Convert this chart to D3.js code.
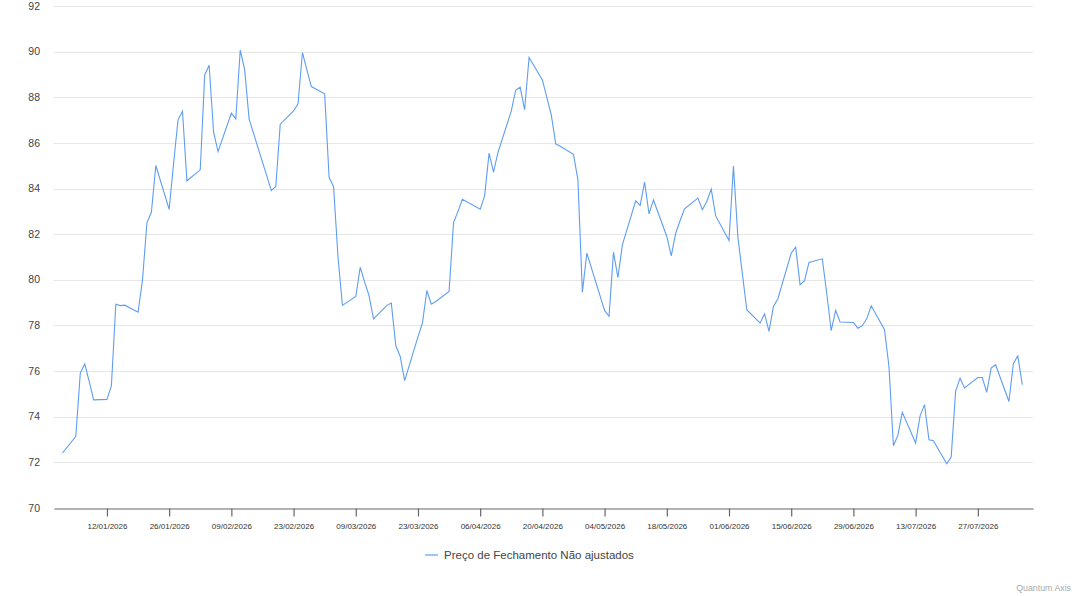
<!DOCTYPE html>
<html>
<head>
<meta charset="utf-8">
<script src="https://cdn.jsdelivr.net/npm/d3@7"></script>
<style>
  html, body { margin: 0; padding: 0; background: #fff; }
  svg { display: block; font-family: "Liberation Sans", Arial, sans-serif; }
</style>
</head>
<body>
<svg id="chart" width="1080" height="596"></svg>
<script>
// closing prices (unadjusted), one per trading day
const dates = [
  "02/01/2026","05/01/2026","06/01/2026","07/01/2026","08/01/2026","09/01/2026",
  "12/01/2026","13/01/2026","14/01/2026","15/01/2026","16/01/2026",
  "19/01/2026","20/01/2026","21/01/2026","22/01/2026","23/01/2026",
  "26/01/2026","27/01/2026","28/01/2026","29/01/2026","30/01/2026",
  "02/02/2026","03/02/2026","04/02/2026","05/02/2026","06/02/2026",
  "09/02/2026","10/02/2026","11/02/2026","12/02/2026","13/02/2026",
  "18/02/2026","19/02/2026","20/02/2026",
  "23/02/2026","24/02/2026","25/02/2026","26/02/2026","27/02/2026",
  "02/03/2026","03/03/2026","04/03/2026","05/03/2026","06/03/2026",
  "09/03/2026","10/03/2026","11/03/2026","12/03/2026","13/03/2026",
  "16/03/2026","17/03/2026","18/03/2026","19/03/2026","20/03/2026",
  "23/03/2026","24/03/2026","25/03/2026","26/03/2026","27/03/2026",
  "30/03/2026","31/03/2026","01/04/2026","02/04/2026",
  "06/04/2026","07/04/2026","08/04/2026","09/04/2026","10/04/2026",
  "13/04/2026","14/04/2026","15/04/2026","16/04/2026","17/04/2026",
  "20/04/2026","22/04/2026","23/04/2026","24/04/2026",
  "27/04/2026","28/04/2026","29/04/2026","30/04/2026",
  "04/05/2026","05/05/2026","06/05/2026","07/05/2026","08/05/2026",
  "11/05/2026","12/05/2026","13/05/2026","14/05/2026","15/05/2026",
  "18/05/2026","19/05/2026","20/05/2026","21/05/2026","22/05/2026",
  "25/05/2026","26/05/2026","27/05/2026","28/05/2026","29/05/2026",
  "01/06/2026","02/06/2026","03/06/2026","05/06/2026",
  "08/06/2026","09/06/2026","10/06/2026","11/06/2026","12/06/2026",
  "15/06/2026","16/06/2026","17/06/2026","18/06/2026","19/06/2026",
  "22/06/2026","23/06/2026","24/06/2026","25/06/2026","26/06/2026",
  "29/06/2026","30/06/2026","01/07/2026","02/07/2026","03/07/2026",
  "06/07/2026","07/07/2026","08/07/2026","09/07/2026","10/07/2026",
  "13/07/2026","14/07/2026","15/07/2026","16/07/2026","17/07/2026",
  "20/07/2026","21/07/2026","22/07/2026","23/07/2026","24/07/2026",
  "27/07/2026","28/07/2026","29/07/2026","30/07/2026","31/07/2026",
  "03/08/2026","04/08/2026","05/08/2026","06/08/2026"
];
const closes = [
  72.41,73.14,75.91,76.32,75.55,74.74,
  74.76,75.36,78.93,78.87,78.89,
  78.58,80.00,82.51,82.96,85.01,
  83.09,85.11,87.01,87.39,84.34,
  84.82,88.98,89.40,86.47,85.62,
  87.30,87.05,90.07,89.20,87.04,
  83.91,84.09,86.82,
  87.40,87.71,89.96,89.20,88.47,
  88.15,84.48,84.09,81.00,78.88,
  79.27,80.55,79.90,79.30,78.29,
  78.88,78.98,77.12,76.64,75.58,
  77.50,78.10,79.53,78.93,79.05,
  79.49,82.51,83.00,83.53,
  83.09,83.68,85.55,84.72,85.58,
  87.40,88.32,88.44,87.45,89.74,
  88.76,87.23,85.96,85.85,
  85.50,84.38,79.46,81.17,
  78.66,78.40,81.21,80.10,81.53,
  83.46,83.26,84.28,82.89,83.50,
  81.90,81.05,82.04,82.60,83.11,
  83.58,83.07,83.43,83.97,82.80,
  81.72,84.99,81.87,78.69,
  78.10,78.51,77.74,78.83,79.17,
  81.17,81.43,79.78,79.96,80.76,
  80.92,79.40,77.77,78.66,78.15,
  78.13,77.88,77.99,78.29,78.86,
  77.81,76.20,72.73,73.18,74.19,
  72.85,74.04,74.53,72.99,72.95,
  71.94,72.23,75.11,75.69,75.26,
  75.72,75.72,75.07,76.13,76.28,
  74.67,76.32,76.67,75.40
];
const xTickLabels = [
  "12/01/2026","26/01/2026","09/02/2026","23/02/2026","09/03/2026",
  "23/03/2026","06/04/2026","20/04/2026","04/05/2026","18/05/2026",
  "01/06/2026","15/06/2026","29/06/2026","13/07/2026","27/07/2026"
];
const yTicks = [70, 72, 74, 76, 78, 80, 82, 84, 86, 88, 90, 92];
const seriesName = "Preço de Fechamento Não ajustados";

const parse = d3.utcParse("%d/%m/%Y");
const fmt = d3.utcFormat("%d/%m/%Y");
const data = dates.map((d, i) => ({ date: parse(d), value: closes[i] }));

const plotLeft = 54, plotRight = 1033, plotTop = 6, plotBottom = 508;
const lineColor = "#5e9df2";

const svg = d3.select("#chart");

// small padding round the data on the time axis
const x = d3.scaleUtc()
  .domain([d3.utcHour.offset(data[0].date, -46), d3.utcHour.offset(data[data.length - 1].date, 58)])
  .range([plotLeft, plotRight]);
const y = d3.scaleLinear()
  .domain([70, 92])
  .range([plotBottom, plotTop]);

// grid
svg.append("g")
  .selectAll("line")
  .data(yTicks.filter(v => v !== 70))
  .join("line")
  .attr("x1", plotLeft).attr("x2", plotRight)
  .attr("y1", d => Math.round(y(d)) + 0.5).attr("y2", d => Math.round(y(d)) + 0.5)
  .attr("stroke", "#e6e6e6");

// y labels
svg.append("g")
  .selectAll("text")
  .data(yTicks)
  .join("text")
  .attr("x", 40)
  .attr("y", d => y(d))
  .attr("dy", "0.35em")
  .attr("text-anchor", "end")
  .attr("font-size", 10.5)
  .attr("fill", "#444")
  .text(d => d);

// x axis
const xAxis = d3.axisBottom(x)
  .tickValues(xTickLabels.map(parse))
  .tickFormat(fmt)
  .tickSize(8)
  .tickSizeOuter(0)
  .tickPadding(7);

const gx = svg.append("g")
  .attr("transform", `translate(0,${plotBottom + 0.5})`)
  .call(xAxis);
gx.select(".domain").attr("stroke", "#666").attr("stroke-width", 1.2);
gx.selectAll(".tick line").attr("stroke", "#666").attr("stroke-width", 1.2);
gx.selectAll(".tick text")
  .attr("font-size", 8)
  .attr("fill", "#333")
  .attr("font-family", "\"Liberation Sans\", Arial, sans-serif");

// price line
const line = d3.line()
  .x(d => x(d.date))
  .y(d => y(d.value));

svg.append("path")
  .datum(data)
  .attr("fill", "none")
  .attr("stroke", lineColor)
  .attr("stroke-width", 1.1)
  .attr("stroke-linejoin", "miter")
  .attr("d", line);

// legend
const lg = svg.append("g").attr("transform", "translate(425,555)");
lg.append("line")
  .attr("x1", 0).attr("x2", 13)
  .attr("stroke", lineColor).attr("stroke-width", 1.2);
lg.append("text")
  .attr("x", 19)
  .attr("dy", "0.35em")
  .attr("font-size", 11.5)
  .attr("fill", "#444")
  .text(seriesName);

// watermark
svg.append("text")
  .attr("x", 1071)
  .attr("y", 588)
  .attr("dy", "0.35em")
  .attr("text-anchor", "end")
  .attr("font-size", 8.8)
  .attr("fill", "#aaa")
  .text("Quantum Axis");
</script>
</body>
</html>
